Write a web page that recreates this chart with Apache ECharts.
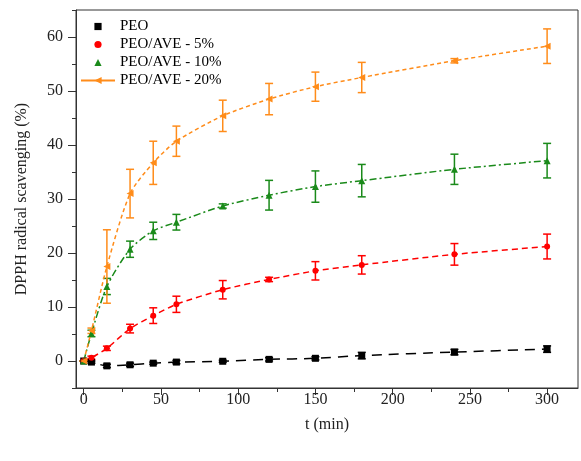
<!DOCTYPE html>
<html lang="en">
<head>
  <meta charset="UTF-8">
  <title>DPPH</title>
  <script src="https://cdn.jsdelivr.net/npm/echarts@6/dist/echarts.min.js"></script>
  <style>
    html, body { margin: 0; padding: 0; background: #fff; }
    #main { width: 581px; height: 461px; }
  </style>
</head>
<body>
  <div id="main"></div>
  <script type="text/javascript">
    // sampling times (min)
    var times = [0, 5, 15, 30, 45, 60, 90, 120, 150, 180, 240, 300];

    var seriesNames = ['PEO', 'PEO/AVE - 5%', 'PEO/AVE - 10%', 'PEO/AVE - 20%'];

    var peo      = [0, -0.2, -0.9, -0.7, -0.4, -0.2, -0.05, 0.3, 0.5, 1.0, 1.65, 2.2];
    var peoErr   = [0, 0.2, 0.3, 0.3, 0.2, 0.3, 0.2, 0.3, 0.3, 0.6, 0.5, 0.6];
    var ave5     = [0, 0.6, 2.35, 6.0, 8.4, 10.5, 13.2, 15.1, 16.7, 17.8, 19.75, 21.2];
    var ave5Err  = [0, 0.3, 0.4, 0.8, 1.45, 1.5, 1.7, 0.4, 1.7, 1.7, 2.0, 2.3];
    var ave10    = [0, 5.1, 13.8, 20.7, 24.1, 25.7, 28.7, 30.7, 32.3, 33.4, 35.5, 37.1];
    var ave10Err = [0, 0.6, 1.5, 1.5, 1.6, 1.45, 0.4, 2.75, 2.9, 3.0, 2.8, 3.2];
    var ave20    = [0, 5.6, 17.5, 31.0, 36.7, 40.7, 45.4, 48.5, 50.8, 52.5, 55.6, 58.3];
    var ave20Err = [0, 0.5, 6.8, 4.5, 4.0, 2.8, 2.9, 2.9, 2.7, 2.8, 0.4, 3.2];

    var xMajor = [0, 50, 100, 150, 200, 250, 300];
    var xMinor = [25, 75, 125, 175, 225, 275];
    var yMajor = [0, 10, 20, 30, 40, 50, 60];
    var yMinor = [-5, 5, 15, 25, 35, 45, 55, 65];

    var font = 'Liberation Serif';
    var colors = ['#000000', '#ff0000', '#1a8a1a', '#ff8c1a'];

    var chartDom = document.getElementById('main');
    var myChart = echarts.init(chartDom);

    function pairs(vals) {
      return times.map(function (t, i) { return [t, vals[i]]; });
    }

    function lineSeries(idx, vals, symbol, size, dash, rotate) {
      return {
        name: seriesNames[idx],
        type: 'line',
        data: pairs(vals),
        symbol: symbol,
        symbolSize: size,
        symbolRotate: rotate || 0,
        smooth: 0.25,
        itemStyle: { color: colors[idx] },
        lineStyle: { color: colors[idx], width: 1.5, type: dash },
        z: 3
      };
    }

    function errorSeries(idx, vals, errs) {
      var color = colors[idx];
      return {
        name: seriesNames[idx],
        type: 'custom',
        silent: true,
        z: 2,
        data: times.map(function (t, i) { return [t, vals[i] - errs[i], vals[i] + errs[i]]; }),
        encode: { x: 0, y: [1, 2] },
        renderItem: function (params, api) {
          var lo = api.coord([api.value(0), api.value(1)]);
          var hi = api.coord([api.value(0), api.value(2)]);
          var w = 4;
          var st = { stroke: color, lineWidth: 1.5 };
          return {
            type: 'group',
            children: [
              { type: 'line', shape: { x1: lo[0], y1: lo[1], x2: hi[0], y2: hi[1] }, style: st },
              { type: 'line', shape: { x1: lo[0] - w, y1: lo[1], x2: lo[0] + w, y2: lo[1] }, style: st },
              { type: 'line', shape: { x1: hi[0] - w, y1: hi[1], x2: hi[0] + w, y2: hi[1] }, style: st }
            ]
          };
        }
      };
    }

    var option = {
      animation: false,
      textStyle: { fontFamily: font },
      grid: { left: 76, right: 3, top: 10, bottom: 73, show: true, borderColor: '#333', borderWidth: 1 },
      legend: {
        orient: 'vertical',
        left: 75,
        top: 14,
        itemWidth: 34,
        itemHeight: 9,
        itemGap: 3,
        textStyle: { fontFamily: font, fontSize: 15, color: '#000' },
        data: [
          { name: seriesNames[0], lineStyle: { opacity: 0 } },
          { name: seriesNames[1], lineStyle: { opacity: 0 } },
          { name: seriesNames[2], lineStyle: { opacity: 0 } },
          { name: seriesNames[3], lineStyle: { type: 'solid' } }
        ]
      },
      xAxis: [{
        type: 'value',
        min: -5,
        max: 320,
        interval: 5,
        name: 't (min)',
        nameLocation: 'middle',
        nameGap: 29,
        nameTextStyle: { fontFamily: font, fontSize: 16, color: '#222' },
        axisLine: { onZero: false, lineStyle: { color: '#333', width: 1 } },
        axisTick: { customValues: xMajor, length: 7, lineStyle: { color: '#333' } },
        axisLabel: { customValues: xMajor, margin: 4, fontFamily: font, fontSize: 16, color: '#222' },
        splitLine: { show: false }
      }, {
        type: 'value',
        min: -5,
        max: 320,
        interval: 5,
        position: 'bottom',
        axisLine: { show: false, onZero: false },
        axisTick: { customValues: xMinor, length: 4, lineStyle: { color: '#333' } },
        axisLabel: { show: false },
        splitLine: { show: false }
      }],
      yAxis: [{
        type: 'value',
        min: -5,
        max: 65,
        interval: 5,
        name: 'DPPH radical scavenging (%)',
        nameLocation: 'middle',
        nameGap: 46,
        nameTextStyle: { fontFamily: font, fontSize: 16, color: '#222' },
        axisLine: { show: true, onZero: false, lineStyle: { color: '#333', width: 1 } },
        axisTick: { customValues: yMajor, length: 8, lineStyle: { color: '#333' } },
        axisLabel: { customValues: yMajor, margin: 13, fontFamily: font, fontSize: 16, color: '#222' },
        splitLine: { show: false }
      }, {
        type: 'value',
        min: -5,
        max: 65,
        interval: 5,
        position: 'left',
        axisLine: { show: false, onZero: false },
        axisTick: { customValues: yMinor, length: 4, lineStyle: { color: '#333' } },
        axisLabel: { show: false },
        splitLine: { show: false }
      }],
      series: [
        lineSeries(0, peo, 'rect', 7, [10, 7]),
        lineSeries(1, ave5, 'circle', 6, [6, 4]),
        lineSeries(2, ave10, 'triangle', 7, [7, 3, 2, 3]),
        lineSeries(3, ave20, 'triangle', 7, [4, 3], 90),
        errorSeries(0, peo, peoErr),
        errorSeries(1, ave5, ave5Err),
        errorSeries(2, ave10, ave10Err),
        errorSeries(3, ave20, ave20Err)
      ]
    };

    myChart.setOption(option);
  </script>
</body>
</html>
